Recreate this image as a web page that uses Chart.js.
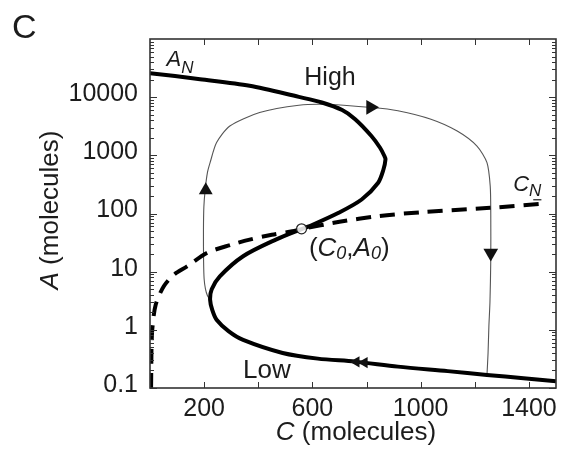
<!DOCTYPE html>
<html>
<head>
<meta charset="utf-8">
<script src="https://cdn.jsdelivr.net/npm/chart.js@4.4.1/dist/chart.umd.min.js"></script>
<style>
  html, body { margin: 0; padding: 0; background: #fff; }
  #wrap { width: 564px; height: 453px; }
</style>
</head>
<body>
<div id="wrap"><canvas id="chart"></canvas></div>
<script>
// A nullcline (thick S-shaped curve)
const anC = [0, 185, 368, 550, 635, 710, 758, 818, 850, 866, 870, 862, 843, 782, 697, 587, 560, 465, 344, 258, 228, 222, 230, 246, 290, 344, 490, 620, 758, 916, 1100, 1245, 1380, 1500];
const anA = [25900, 20400, 15700, 10100, 8100, 6000, 4180, 2150, 1350, 973, 853, 560, 338, 174, 103, 60, 54, 35.6, 18.4, 8.3, 5, 3.3, 2.2, 1.49, 0.95, 0.67, 0.40, 0.32, 0.284, 0.233, 0.195, 0.168, 0.147, 0.13];

// C nullcline (dashed)
const cnC = [4, 5, 6, 9, 21, 51, 90, 137, 210, 300, 368, 450, 526, 560, 700, 843, 1000, 1257, 1460];
const cnA = [0.1, 0.3, 0.6, 1.1, 2.7, 5.6, 9, 12.3, 21, 29, 35.6, 43, 49.5, 54, 72, 90, 105, 125, 149];

// oscillation trajectory (thin)
const trC = [222, 212, 205, 200, 198, 197.5, 199, 204, 212, 222, 246, 295, 405, 550, 660, 820, 916, 1038, 1135, 1208, 1245, 1257, 1259, 1259, 1256, 1252, 1249, 1245];
const trA = [3.3, 3.9, 5, 7.5, 15, 50, 130, 260, 500, 748, 1655, 3200, 5450, 7270, 7500, 6650, 5850, 4180, 2620, 1445, 748, 296, 100, 16, 3, 1.14, 0.4, 0.168];

// direction arrows on the trajectory: up, right, down, left, left
const arrowC = [206, 815, 1259, 762, 792];
const arrowA = [252, 6680, 20.9, 0.282, 0.274];

// fixed point (C0, A0)
const fixC = [560];
const fixA = [54.5];

const xTickLabels = [200, 600, 1000, 1400];
const yTickLabels = [0.1, 1, 10, 100, 1000, 10000];

const pts = (xs, ys) => xs.map((x, i) => ({ x: x, y: ys[i] }));
const FONT = '"Liberation Sans", Arial, Helvetica, sans-serif';
const INK = '#1c1c1c';

// draw a row of text pieces, each with its own font and baseline shift
function drawRuns(ctx, runs, x, y) {
  let cx = x;
  runs.forEach(r => {
    ctx.font = r.font;
    ctx.fillText(r.t, cx, y + (r.dy || 0));
    cx += ctx.measureText(r.t).width;
  });
  return cx;
}
function runsWidth(ctx, runs) {
  let w = 0;
  runs.forEach(r => { ctx.font = r.font; w += ctx.measureText(r.t).width; });
  return w;
}

const decor = {
  id: 'decor',
  afterDraw(chart) {
    const { ctx, chartArea: a, scales: { x, y } } = chart;
    ctx.save();
    ctx.strokeStyle = '#333';
    ctx.lineWidth = 1.6;
    ctx.strokeRect(a.left, a.top, a.right - a.left, a.bottom - a.top);

    // inward tick marks on all four sides
    ctx.lineWidth = 1;
    ctx.beginPath();
    for (let v = 200; v <= 1400; v += 200) {
      const px = Math.round(x.getPixelForValue(v)) + 0.5;
      ctx.moveTo(px, a.bottom); ctx.lineTo(px, a.bottom - 6);
      ctx.moveTo(px, a.top); ctx.lineTo(px, a.top + 6);
    }
    for (let e = -1; e <= 4; e++) {
      for (let m = 1; m <= 9; m++) {
        const py = Math.round(y.getPixelForValue(m * Math.pow(10, e))) + 0.5;
        const len = m === 1 ? 7 : 4;
        ctx.moveTo(a.left, py); ctx.lineTo(a.left + len, py);
        ctx.moveTo(a.right, py); ctx.lineTo(a.right - len, py);
      }
    }
    ctx.stroke();

    ctx.fillStyle = INK;
    ctx.textBaseline = 'alphabetic';
    ctx.textAlign = 'left';

    // panel letter
    ctx.font = '34px ' + FONT;
    ctx.fillText('C', 12, 38);

    const it = s => 'italic ' + s + 'px ' + FONT;
    const rg = s => s + 'px ' + FONT;

    // curve labels, anchored in data space
    const at = (c, v) => [x.getPixelForValue(c), y.getPixelForValue(v)];
    let p = at(61, 34200);
    drawRuns(ctx, [{ t: 'A', font: it(22) }, { t: 'N', font: it(17), dy: 7 }], p[0], p[1]);

    p = at(570, 16100);
    ctx.font = rg(25);
    ctx.fillText('High', p[0], p[1]);

    p = at(1342, 242);
    const end = drawRuns(ctx, [{ t: 'C', font: it(22) }, { t: 'N', font: it(17), dy: 5 }], p[0], p[1]);
    ctx.fillRect(p[0] + 20, p[1] + 8, end - p[0] - 20, 1.2);

    p = at(587, 18.4);
    drawRuns(ctx, [
      { t: '(', font: rg(26) }, { t: 'C', font: it(26) }, { t: '0', font: it(18), dy: 3 },
      { t: ',', font: rg(26) }, { t: 'A', font: it(26) }, { t: '0', font: it(18), dy: 3 },
      { t: ')', font: rg(26) }
    ], p[0], p[1]);

    p = at(344, 0.147);
    ctx.font = rg(26);
    ctx.fillText('Low', p[0], p[1]);

    // axis titles
    const xt = [{ t: 'C', font: it(26) }, { t: ' (molecules)', font: rg(26) }];
    const cx = (a.left + a.right) / 2 + 3;
    drawRuns(ctx, xt, cx - runsWidth(ctx, xt) / 2, 440);

    const yt = [{ t: 'A', font: it(26) }, { t: ' (molecules)', font: rg(26) }];
    ctx.translate(58, 210);
    ctx.rotate(-Math.PI / 2);
    drawRuns(ctx, yt, -runsWidth(ctx, yt) / 2, 0);
    ctx.restore();
  }
};

new Chart(document.getElementById('chart'), {
  type: 'line',
  data: {
    datasets: [
      {
        label: 'fixed point',
        data: pts(fixC, fixA),
        showLine: false,
        pointRadius: 5,
        pointBorderWidth: 1.2,
        pointBorderColor: '#222',
        pointBackgroundColor: 'rgba(255,255,255,0.85)',
        order: 0
      },
      {
        label: 'arrows',
        data: pts(arrowC, arrowA),
        showLine: false,
        pointStyle: 'triangle',
        pointRadius: [8, 8.5, 8.5, 6.5, 6.5],
        pointRotation: [0, 90, 180, 270, 270],
        pointBorderWidth: 0,
        pointBackgroundColor: '#111',
        pointBorderColor: '#111',
        order: 1
      },
      {
        label: 'A_N',
        data: pts(anC, anA),
        borderColor: '#000',
        borderWidth: 4,
        tension: 0.3,
        pointRadius: 0,
        order: 2
      },
      {
        label: 'C_N',
        data: pts(cnC, cnA),
        borderColor: '#000',
        borderWidth: 4,
        borderDash: [15, 9],
        tension: 0.3,
        pointRadius: 0,
        order: 3
      },
      {
        label: 'trajectory',
        data: pts(trC, trA),
        borderColor: '#555',
        borderWidth: 1.1,
        tension: 0.25,
        pointRadius: 0,
        order: 4
      }
    ]
  },
  options: {
    responsive: true,
    maintainAspectRatio: false,
    animation: false,
    layout: { padding: { left: 0, top: 39, right: 5, bottom: 0 } },
    plugins: { legend: { display: false }, tooltip: { enabled: false } },
    scales: {
      x: {
        type: 'linear',
        min: 0,
        max: 1500,
        grid: { display: false, drawTicks: false },
        border: { display: false },
        afterBuildTicks: s => { s.ticks = xTickLabels.map(v => ({ value: v })); },
        afterFit: s => { s.height = 65; s.paddingLeft = 0; s.paddingRight = 0; },
        ticks: {
          autoSkip: false,
          maxRotation: 0,
          padding: 6,
          color: INK,
          font: { family: FONT, size: 25 },
          callback: v => String(v)
        }
      },
      y: {
        type: 'logarithmic',
        min: 0.1,
        max: 100000,
        grid: { display: false, drawTicks: false },
        border: { display: false },
        afterBuildTicks: s => { s.ticks = yTickLabels.map(v => ({ value: v })); },
        afterFit: s => { s.width = 150; s.paddingTop = 0; s.paddingBottom = 0; },
        ticks: {
          autoSkip: false,
          padding: 12,
          labelOffset: -3,
          color: INK,
          font: { family: FONT, size: 25 },
          callback: v => String(v)
        }
      }
    }
  },
  plugins: [decor]
});
</script>
</body>
</html>
